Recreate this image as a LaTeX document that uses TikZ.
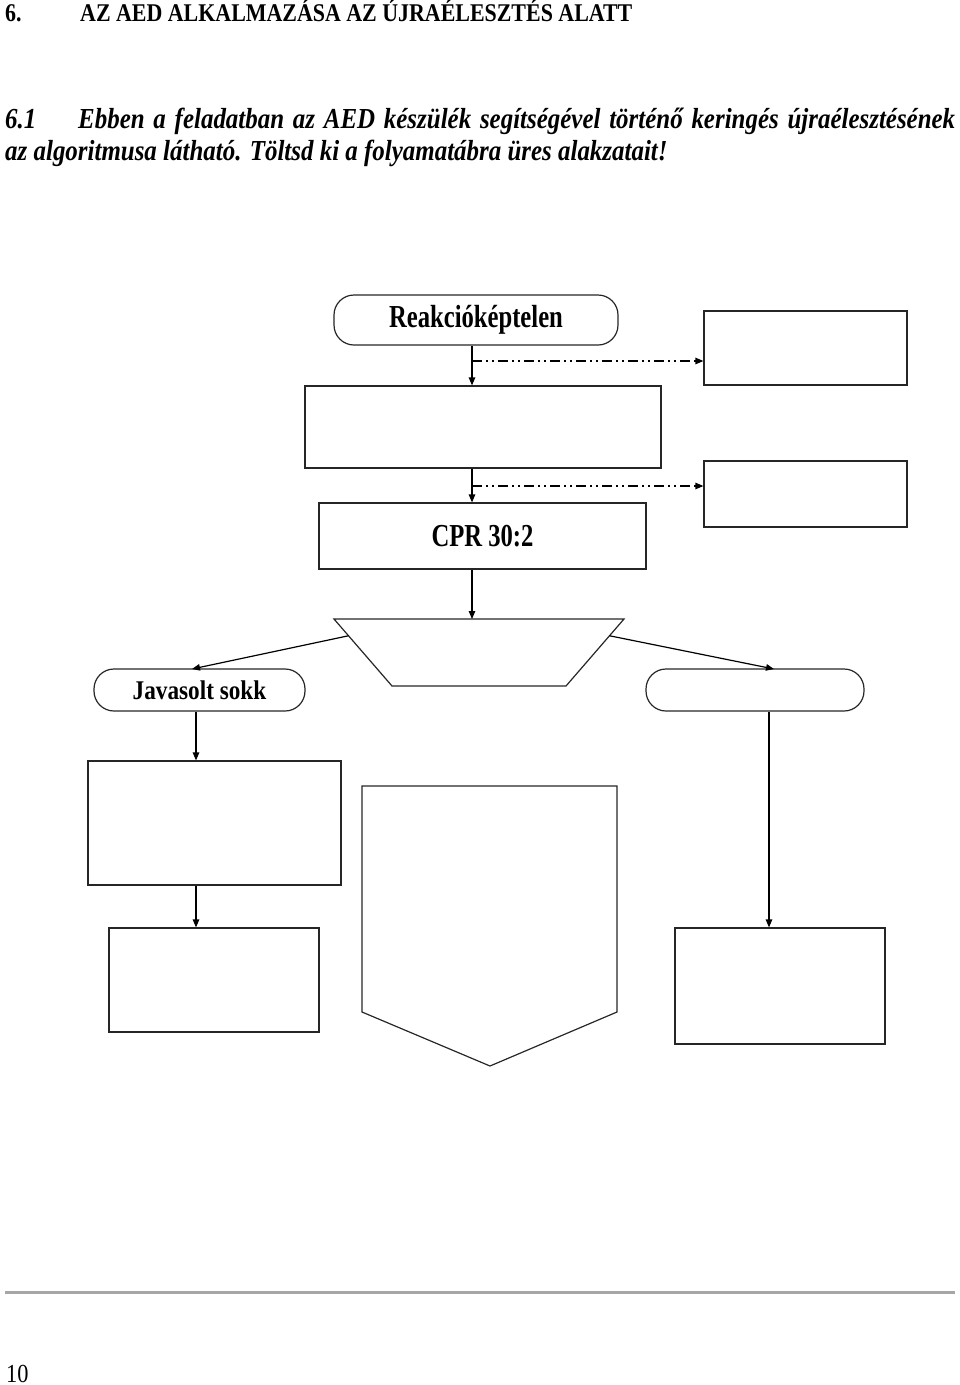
\documentclass[tikz,border=0pt]{standalone}
\usepackage{fontspec}
\setmainfont{Liberation Serif}
\newfontfamily\condfont[FakeStretch=0.77]{Liberation Serif}
\newfontfamily\semicondfont[FakeStretch=0.86]{Liberation Serif}
\usetikzlibrary{arrows.meta, positioning, calc}

\tikzset{
  box/.style={draw=black!85, line width=1.2pt, inner sep=0pt},
  term/.style={box, rounded corners=20pt},
  flow/.style={line width=1.2pt, -{Triangle[length=8pt,width=6.5pt]}},
  side/.style={flow, dash pattern=on 10pt off 4pt on 2pt off 4pt on 2pt off 4pt},
  label/.style={font=\condfont\bfseries\fontsize{32}{36}\selectfont},
  heading/.style={anchor=base west, inner sep=0pt, font=\semicondfont\bfseries\fontsize{25.5}{29}\selectfont},
  task/.style={anchor=base west, inner sep=0pt, font=\semicondfont\bfseries\itshape\fontsize{29}{33}\selectfont}
}

\begin{document}
\begin{tikzpicture}[x=1pt, y=-1pt]
  \useasboundingbox (0,0) rectangle (960,1385);

  % heading
  \node[heading] (num) at (5,21) {6.};
  \node[heading] (title) at (80,21) {AZ AED ALKALMAZÁSA AZ ÚJRAÉLESZTÉS ALATT};
  \node[task] (tasknum) at (5,128) {6.1};
  \node[task] (task1) at (78,128) {\makebox[877pt][s]{Ebben a feladatban az AED készülék segítségével történő keringés újraélesztésének}};
  \node[task] (task2) at (5,160) {az algoritmusa látható. Töltsd ki a folyamatábra üres alakzatait!};

  % flowchart
  \coordinate (spine) at (472,0);
  \coordinate (lspine) at (196,0);
  \coordinate (rspine) at (769,0);
  \node[term, label, minimum width=284pt, minimum height=50pt] (start) at (476,320) {Reakcióképtelen};
  \node[box, minimum width=203pt, minimum height=74pt] (r1) at (805.5,348) {};
  \node[box, minimum width=356pt, minimum height=82pt] (b2) at (483,427) {};
  \node[box, minimum width=203pt, minimum height=66pt] (r2) at (805.5,494) {};
  \node[box, label, minimum width=327pt, minimum height=66pt] (cpr) at (482.5,536) {CPR 30:2};

  \coordinate (tl) at (334,619);
  \coordinate (tr) at (624,619);
  \coordinate (br) at (566,686);
  \coordinate (bl) at (392,686);
  \draw[black!85, line width=1.2pt] (tl) -- (tr) -- (br) -- (bl) -- cycle;

  \node[term, font=\semicondfont\bfseries\fontsize{27}{31}\selectfont, minimum width=211pt, minimum height=42pt] (shock) at (199.5,690) {Javasolt sokk};
  \node[term, minimum width=218pt, minimum height=42pt] (noshock) at (755,690) {};
  \node[box, minimum width=253pt, minimum height=124pt] (l1) at (214.5,823) {};
  \node[box, minimum width=210pt, minimum height=104pt] (l2) at (214,980) {};
  \node[box, minimum width=210pt, minimum height=116pt] (rr) at (780,986) {};
  \draw[black!85, line width=1.2pt] (362,786) -- (617,786) -- (617,1012) -- (490,1066) -- (362,1012) -- cycle;

  \draw[flow] (spine |- start.south) -- (spine |- b2.north);
  \draw[flow] (spine |- b2.south) -- (spine |- cpr.north);
  \draw[flow] (spine |- cpr.south) -- (spine |- tl);
  \coordinate (d1) at (472,361);
  \coordinate (d2) at (472,486);
  \draw[side] (d1) -- (d1 -| r1.west);
  \draw[side] (d2) -- (d2 -| r2.west);
  \draw[flow] ($(tl)!0.25!(bl)$) -- (192,669);
  \draw[flow] ($(tr)!0.25!(br)$) -- (774,669);
  \draw[flow] (lspine |- shock.south) -- (lspine |- l1.north);
  \draw[flow] (lspine |- l1.south) -- (lspine |- l2.north);
  \draw[flow] (rspine |- noshock.south) -- (rspine |- rr.north);

  % footer
  \draw[gray!70, line width=3pt] (5,1292) -- (955,1292);
  \node[anchor=base west, inner sep=0pt, font=\semicondfont\fontsize{26}{30}\selectfont] (page) at (6,1382) {10};
\end{tikzpicture}
\end{document}
